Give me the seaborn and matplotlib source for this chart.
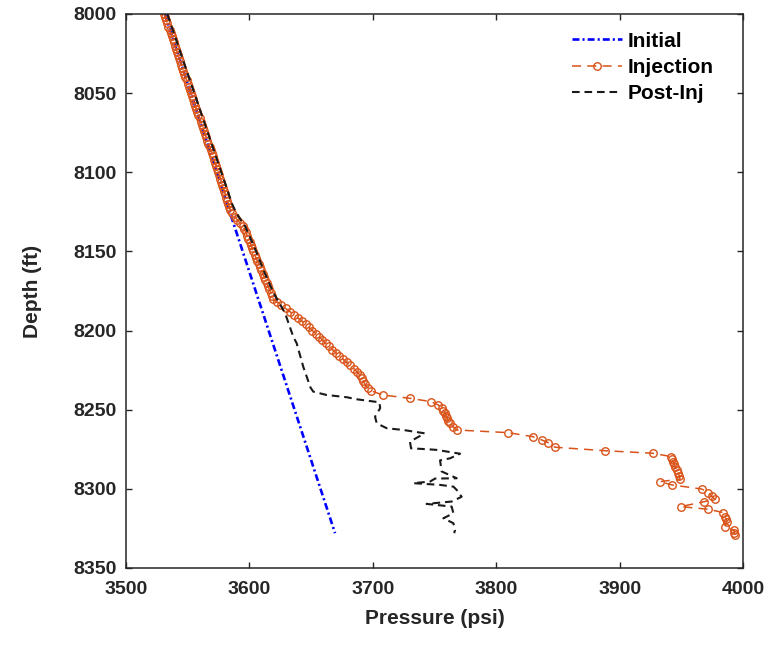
import matplotlib
matplotlib.use("Agg")
import matplotlib.pyplot as plt
import seaborn as sns

# ---------------- data ----------------
# Initial (pre-injection) pressure profile
initial_depth = [8000, 8328]
initial_pressure = [3531.5, 3669.4]

# Pressure during injection (gauge stations)
injection_depth = [
    8000, 8002, 8004, 8006, 8008, 8010, 8012, 8014, 8016, 8018, 8020, 8022, 8024, 8026, 8028,
    8030, 8032, 8034, 8036, 8038, 8040, 8042, 8044, 8046, 8048, 8050, 8052, 8054, 8056, 8058,
    8060, 8062, 8064, 8066, 8068, 8070, 8072, 8074, 8076, 8078, 8080, 8082, 8084, 8086, 8088,
    8090, 8092, 8094, 8096, 8098, 8100, 8102, 8104, 8106, 8108, 8110, 8112, 8114, 8116, 8118,
    8120, 8122, 8124, 8126, 8128, 8130, 8132, 8134, 8136, 8138, 8140, 8142, 8144, 8146, 8148,
    8150, 8152, 8154, 8156, 8158, 8160, 8162, 8164, 8166, 8168, 8170, 8172, 8174, 8176, 8178,
    8180, 8182, 8184, 8186, 8188, 8190, 8192, 8194, 8196, 8198, 8200, 8202, 8204, 8206, 8208,
    8210, 8212, 8214, 8216, 8218, 8220, 8222, 8224, 8226, 8228, 8230, 8232, 8234, 8236, 8238,
    8240.7, 8242.8, 8244.9, 8247.0, 8249.1, 8250.7, 8252.2, 8253.8, 8255.4, 8257.0, 8258.6,
    8260.7, 8262.8, 8264.5, 8267.0, 8269.1, 8270.8, 8273.7, 8275.9, 8277.5, 8279.6, 8281.2,
    8282.8, 8284.4, 8286.0, 8288.1, 8290.2, 8292.0, 8293.9, 8295.4, 8297.5, 8300.1, 8302.4,
    8304.5, 8306.6, 8308.1, 8311.2, 8312.9, 8315.0, 8317.6, 8319.2, 8320.7, 8323.9, 8326.0,
    8327.6, 8329.1,
]
injection_pressure = [
    3531.0, 3531.9, 3532.7, 3533.6, 3534.4, 3535.3, 3536.1, 3537.0, 3537.9, 3538.7, 3539.6,
    3540.5, 3541.3, 3542.2, 3543.0, 3543.9, 3544.8, 3545.6, 3546.5, 3547.3, 3548.2, 3549.1,
    3549.9, 3550.8, 3551.7, 3552.5, 3553.4, 3554.3, 3555.1, 3556.0, 3556.9, 3557.8, 3558.7,
    3559.6, 3560.5, 3561.4, 3562.3, 3563.2, 3564.1, 3565.0, 3565.9, 3566.8, 3567.7, 3568.6,
    3569.5, 3570.4, 3571.3, 3572.2, 3573.1, 3574.0, 3574.9, 3575.7, 3576.5, 3577.3, 3578.1,
    3578.9, 3579.7, 3580.5, 3581.3, 3582.1, 3582.9, 3583.7, 3584.6, 3586.0, 3588.0, 3590.2,
    3592.4, 3594.5, 3595.9, 3597.1, 3598.2, 3599.2, 3600.2, 3601.2, 3602.2, 3603.2, 3604.3,
    3605.3, 3606.4, 3607.5, 3608.6, 3609.7, 3610.8, 3611.8, 3612.9, 3614.0, 3615.1, 3616.2,
    3617.3, 3618.3, 3619.4, 3622.4, 3625.9, 3629.4, 3632.8, 3636.2, 3639.4, 3642.5, 3645.5,
    3648.3, 3651.1, 3653.9, 3656.6, 3659.2, 3661.8, 3664.4, 3667.2, 3670.0, 3672.8, 3675.7,
    3678.7, 3681.7, 3684.5, 3687.1, 3689.5, 3691.0, 3692.4, 3693.7, 3695.8, 3698.5,
    3708.0, 3730.1, 3747.2, 3753.1, 3755.8, 3757.2, 3758.5, 3759.2, 3759.9, 3761.2, 3762.6,
    3765.0, 3768.0, 3809.8, 3829.6, 3836.9, 3842.2, 3847.6, 3888.2, 3926.8, 3941.6, 3942.5,
    3943.5, 3944.2, 3944.9, 3946.3, 3947.6, 3948.4, 3949.0, 3932.7, 3942.2, 3966.5, 3971.9,
    3974.5, 3977.3, 3968.6, 3949.5, 3971.9, 3984.0, 3985.4, 3986.5, 3986.8, 3985.4, 3992.7,
    3993.0, 3993.5,
]

# Pressure after injection (shut-in survey)
post_depth = [
    8000, 8040, 8080, 8120, 8126, 8134, 8150, 8162, 8176, 8189, 8204, 8208, 8223, 8229,
    8236, 8238.6, 8240.7, 8242.1, 8243.4, 8245.3, 8249.0, 8254.4, 8258.6, 8261.7, 8262.8,
    8264.9, 8270.2, 8274.4, 8275.0, 8275.4, 8277.8, 8280.7, 8282.0, 8289.0, 8293.3, 8293.5,
    8295.4, 8296.4, 8297.5, 8298.6, 8300.7, 8305.0, 8308.0, 8309.5, 8311.2, 8315.4, 8318.6,
    8321.7, 8326.0, 8328.0,
]
post_pressure = [
    3533.5, 3551.0, 3568.5, 3586.0, 3589.5, 3596.5, 3605.5, 3611.5, 3619.4, 3628.9, 3635.6,
    3638.3, 3643.7, 3646.4, 3649.5, 3651.8, 3662.6, 3678.8, 3686.9, 3705.3, 3706.0, 3701.8,
    3703.2, 3711.3, 3724.7, 3742.0, 3730.1, 3731.0, 3745.0, 3752.0, 3770.7, 3762.6, 3754.5,
    3755.8, 3768.0, 3750.4, 3746.4, 3732.8, 3754.5, 3765.3, 3768.0, 3772.0, 3764.0, 3743.6,
    3763.9, 3765.3, 3757.2, 3765.3, 3766.6, 3766.0,
]

x_ticks = [3500, 3600, 3700, 3800, 3900, 4000]
y_ticks = [8000, 8050, 8100, 8150, 8200, 8250, 8300, 8350]

# ---------------- style ----------------
sns.set_theme(style="ticks")
plt.rcParams["font.family"] = ["Liberation Sans", "DejaVu Sans"]
plt.rcParams["font.weight"] = "bold"
plt.rcParams["lines.scale_dashes"] = False

INK = "#262626"
ORANGE = "#D95319"

fig = plt.figure(figsize=(7.68, 6.62), dpi=100)
ax = fig.add_axes([126 / 768, 1 - 568 / 662, (743 - 126) / 768, (568 - 14) / 662])

sns.lineplot(x=initial_pressure, y=initial_depth, sort=False, estimator=None, ax=ax,
             color="blue", lw=1.9, linestyle=(0, (5, 2.2, 1.5, 2.2)), label="Initial")
sns.lineplot(x=injection_pressure, y=injection_depth, sort=False, estimator=None, ax=ax,
             color=ORANGE, lw=1.1, linestyle=(0, (6.5, 4.5)), marker="o",
             markersize=5.4, markerfacecolor="none", markeredgecolor=ORANGE,
             markeredgewidth=1.0, label="Injection")
sns.lineplot(x=post_pressure, y=post_depth, sort=False, estimator=None, ax=ax,
             color="#1a1a1a", lw=1.5, linestyle=(0, (5.5, 3.5)), label="Post-Inj")

ax.set_xlim(3500, 4000)
ax.set_ylim(8350, 8000)
ax.set_xticks(x_ticks)
ax.set_yticks(y_ticks)
ax.tick_params(axis="both", which="both", direction="in", length=4.5, width=1.0,
               top=True, right=True, labelsize=14, colors=INK, labelcolor=INK)
ax.tick_params(axis="x", pad=9)
ax.tick_params(axis="y", pad=7)
for lab in ax.get_xticklabels() + ax.get_yticklabels():
    lab.set_fontweight("bold")
for s in ax.spines.values():
    s.set_visible(True)
    s.set_color(INK)
    s.set_linewidth(1.1)

ax.set_xlabel("Pressure (psi)", fontsize=15, fontweight="bold", color=INK, labelpad=8)
ax.set_ylabel("Depth (ft)", fontsize=15, fontweight="bold", color=INK, labelpad=22)

ax.legend(loc="upper left", bbox_to_anchor=(0.7228, 0.968), frameon=False,
          fontsize=15, handlelength=2.4, handletextpad=0.25, labelspacing=0.35,
          borderpad=0, borderaxespad=0, numpoints=1, labelcolor="black")

fig.savefig("out.png", dpi=100)
